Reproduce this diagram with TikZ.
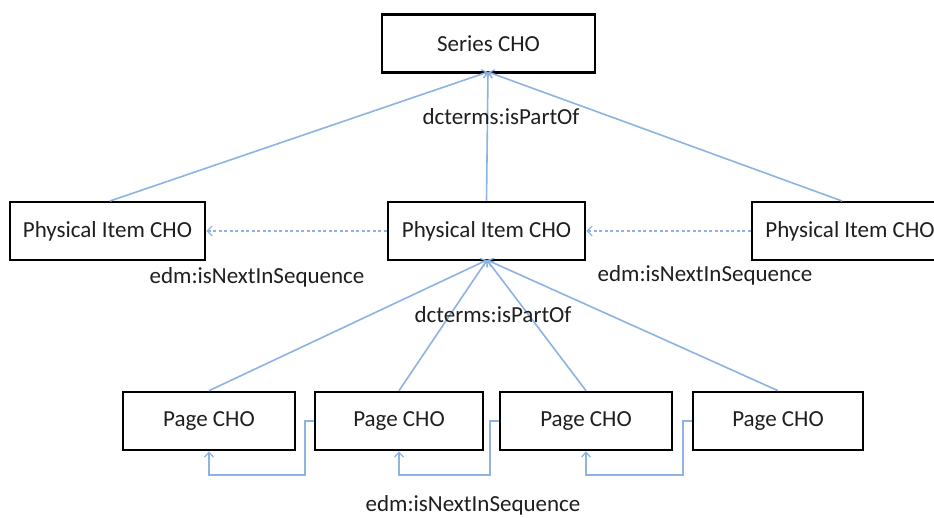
\documentclass[tikz,border=0pt]{standalone}
\usepackage{fontspec}
\setmainfont{Carlito}
\usetikzlibrary{arrows.meta}
\definecolor{linkblue}{RGB}{141,179,226}
\tikzset{
  chobox/.style={draw=black, line width=2.6bp, fill=white, inner sep=0pt,
    minimum height=58bp, font=\fontsize{23bp}{26bp}\selectfont, text=black!88},
  lbl/.style={inner sep=0pt, font=\fontsize{23bp}{26bp}\selectfont, text=black!88},
  part/.style={draw=linkblue, line width=1.6bp, -{Straight Barb[length=5bp,width=9bp,line width=1.2bp]}},
  nextseq/.style={draw=linkblue, line width=1.4bp, dash pattern=on 3bp off 2.5bp, -{Straight Barb[length=5bp,width=10bp,line width=1.2bp]}},
  pageseq/.style={draw=linkblue, line width=1.6bp, -{Straight Barb[length=5bp,width=9bp,line width=1.2bp]}}
}
\begin{document}
\begin{tikzpicture}[x=1bp,y=-1bp]
\useasboundingbox (0,0) rectangle (934,518);
\fill[white] (0,0) rectangle (934,518);
\clip (0,0) rectangle (934,518);

% boxes
\node[chobox, minimum width=213bp] (series) at (488.5,43.5) {Series CHO};
\node[chobox, minimum width=195bp] (pL) at (107.5,231) {Physical Item CHO};
\node[chobox, minimum width=197bp] (pM) at (486.5,231) {Physical Item CHO};
\node[chobox, minimum width=196bp] (pR) at (850,231) {Physical Item CHO};
\node[chobox, minimum width=172bp] (p1) at (209,421) {Page CHO};
\node[chobox, minimum width=168bp] (p2) at (399,421) {Page CHO};
\node[chobox, minimum width=172bp] (p3) at (586,421) {Page CHO};
\node[chobox, minimum width=170bp] (p4) at (778,421) {Page CHO};

\coordinate (sTip) at (488,72);
\coordinate (mTip) at (487,260);
\coordinate (pLtop) at (110,201);
\coordinate (pRtop) at (842,201);

% isPartOf to series
\draw[part] (pLtop) -- (sTip);
\draw[part] (pM.north) -- (sTip);
\draw[part] (pRtop) -- (sTip);

% isPartOf to middle physical item
\draw[part] (p1.north) -- (mTip);
\draw[part] (p2.north) -- (mTip);
\draw[part] (p3.north) -- (mTip);
\draw[part] (p4.north) -- (mTip);

% next in sequence between physical items
\draw[nextseq] (pM.west) -- (pL.east);
\draw[nextseq] (pR.west) -- (pM.east);

% next in sequence between pages
\draw[pageseq] (p2.west) -- ++(-9,0) -- ++(0,54) -| (p1.south);
\draw[pageseq] (p3.west) -- ++(-9,0) -- ++(0,54) -| (p2.south);
\draw[pageseq] (p4.west) -- ++(-9,0) -- ++(0,54) -| (p3.south);

% labels
\node[lbl] (l1) at (501,117) {dcterms:isPartOf};
\node[lbl] (l2) at (493,315) {dcterms:isPartOf};
\node[lbl] (l3) at (257,277) {edm:isNextInSequence};
\node[lbl] (l4) at (705,275) {edm:isNextInSequence};
\node[lbl] (l5) at (473,505) {edm:isNextInSequence};
\end{tikzpicture}
\end{document}
